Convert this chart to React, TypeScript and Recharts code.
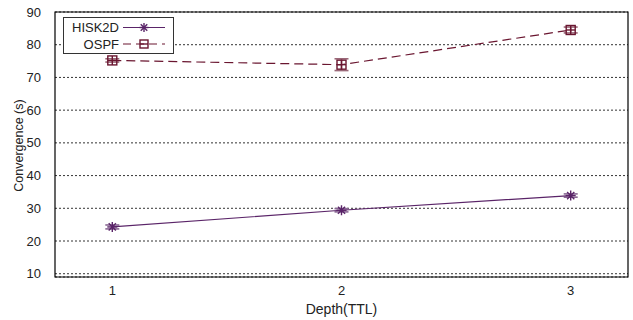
import { LineChart, Line, XAxis, YAxis, CartesianGrid, ErrorBar, ReferenceArea } from 'recharts';

const depth = [1, 2, 3];
const hisk2d = [24.3, 29.4, 33.9];
const hisk2dErr = [0.6, 0.5, 0.5];
const ospf = [75.2, 73.9, 84.5];
const ospfErr = [0.5, 1.8, 0.9];
const yTicks = [10, 20, 30, 40, 50, 60, 70, 80, 90];
const xTicks = [1, 2, 3];

const HISK_COLOR = '#5a2468';
const OSPF_COLOR = '#6a1630';
const FONT = '"Liberation Sans", Arial, sans-serif';

const data = depth.map((d, i) => ({
  depth: d,
  hisk2d: hisk2d[i],
  hisk2dErr: hisk2dErr[i],
  ospf: ospf[i],
  ospfErr: ospfErr[i],
}));

const Star = ({ cx, cy, color, r = 5 }: any) => {
  const d = r * 0.72;
  return (
    <g stroke={color} strokeWidth={1.4}>
      <line x1={cx - r} y1={cy} x2={cx + r} y2={cy} />
      <line x1={cx} y1={cy - r} x2={cx} y2={cy + r} />
      <line x1={cx - d} y1={cy - d} x2={cx + d} y2={cy + d} />
      <line x1={cx - d} y1={cy + d} x2={cx + d} y2={cy - d} />
    </g>
  );
};

const BoxPlus = ({ cx, cy, color, cross = true, s = 4.5 }: any) => (
  <g stroke={color} strokeWidth={1.4} fill="none">
    <rect x={cx - s} y={cy - s} width={s * 2} height={s * 2} />
    <line x1={cx - s} y1={cy} x2={cx + s} y2={cy} />
    {cross && <line x1={cx} y1={cy - s} x2={cx} y2={cy + s} />}
  </g>
);

const StarDot = (props: any) => {
  const { cx, cy, index } = props;
  if (cx == null || cy == null) return <g key={`h${index}`} />;
  return <Star key={`h${index}`} cx={cx} cy={cy} color={HISK_COLOR} />;
};

const BoxDot = (props: any) => {
  const { cx, cy, index } = props;
  if (cx == null || cy == null) return <g key={`o${index}`} />;
  return <BoxPlus key={`o${index}`} cx={cx} cy={cy} color={OSPF_COLOR} />;
};

const LegendBox = () => (
  <svg width={111} height={37} style={{ display: 'block' }}>
    <rect x={0.5} y={0.5} width={110} height={36} fill="#fff" stroke="#333" strokeWidth={1} />
    <text x={56} y={10.5} textAnchor="end" dominantBaseline="central" fontSize={13} fontFamily={FONT} fill="#222">
      HISK2D
    </text>
    <line x1={60} y1={10.5} x2={102} y2={10.5} stroke={HISK_COLOR} strokeWidth={1.2} />
    <Star cx={81} cy={10.5} color={HISK_COLOR} r={4.5} />
    <text x={56} y={27} textAnchor="end" dominantBaseline="central" fontSize={13} fontFamily={FONT} fill="#222">
      OSPF
    </text>
    <line x1={60} y1={27} x2={102} y2={27} stroke={OSPF_COLOR} strokeWidth={1.2} strokeDasharray="8 5" />
    <BoxPlus cx={81} cy={27} color={OSPF_COLOR} cross={false} s={4} />
  </svg>
);

const YLabel = (props: any) => {
  const vb = props.viewBox || {};
  const cy = (vb.y ?? 12) + (vb.height ?? 264) / 2 + 1;
  return (
    <text
      x={19}
      y={cy}
      transform={`rotate(-90, 19, ${cy})`}
      textAnchor="middle"
      dominantBaseline="central"
      fontSize={12.5}
      fontFamily={FONT}
      fill="#222"
    >
      Convergence (s)
    </text>
  );
};

export default function App() {
  return (
    <div style={{ position: 'absolute', left: 0, top: 0, width: 633, height: 320, background: '#fff' }}>
      <LineChart width={633} height={320} data={data} margin={{ top: 12, right: 5, left: 0, bottom: 0 }}>
        <CartesianGrid horizontal vertical={false} stroke="#333" strokeDasharray="2 2" />
        <XAxis
          dataKey="depth"
          type="number"
          domain={[0.75, 3.25]}
          ticks={xTicks}
          allowDataOverflow
          axisLine={false}
          tickLine={false}
          height={43}
          tickMargin={3}
          tick={{ fill: '#222', fontSize: 13, fontFamily: FONT }}
          label={{ value: 'Depth(TTL)', position: 'insideBottom', offset: 6, fill: '#222', fontSize: 14, fontFamily: FONT }}
        />
        <YAxis
          type="number"
          domain={[9, 90]}
          ticks={yTicks}
          allowDataOverflow
          axisLine={false}
          tickLine={false}
          width={55}
          tickMargin={8}
          tick={{ fill: '#222', fontSize: 13, fontFamily: FONT }}
          label={<YLabel />}
        />
        <Line
          dataKey="ospf"
          name="OSPF"
          stroke={OSPF_COLOR}
          strokeWidth={1.2}
          strokeDasharray="9 5"
          dot={BoxDot}
          activeDot={false}
          isAnimationActive={false}
        >
          <ErrorBar dataKey="ospfErr" direction="y" width={7} stroke="#9a6878" strokeWidth={1.6} />
        </Line>
        <Line
          dataKey="hisk2d"
          name="HISK2D"
          stroke={HISK_COLOR}
          strokeWidth={1.2}
          dot={StarDot}
          activeDot={false}
          isAnimationActive={false}
        >
          <ErrorBar dataKey="hisk2dErr" direction="y" width={7} stroke="#8a6894" strokeWidth={1.6} />
        </Line>
        <ReferenceArea x1={0.75} x2={3.25} y1={9} y2={90} fill="none" stroke="#000" strokeWidth={1.2} ifOverflow="extendDomain" />
      </LineChart>
      <div style={{ position: 'absolute', left: 63, top: 17 }}>
        <LegendBox />
      </div>
    </div>
  );
}
